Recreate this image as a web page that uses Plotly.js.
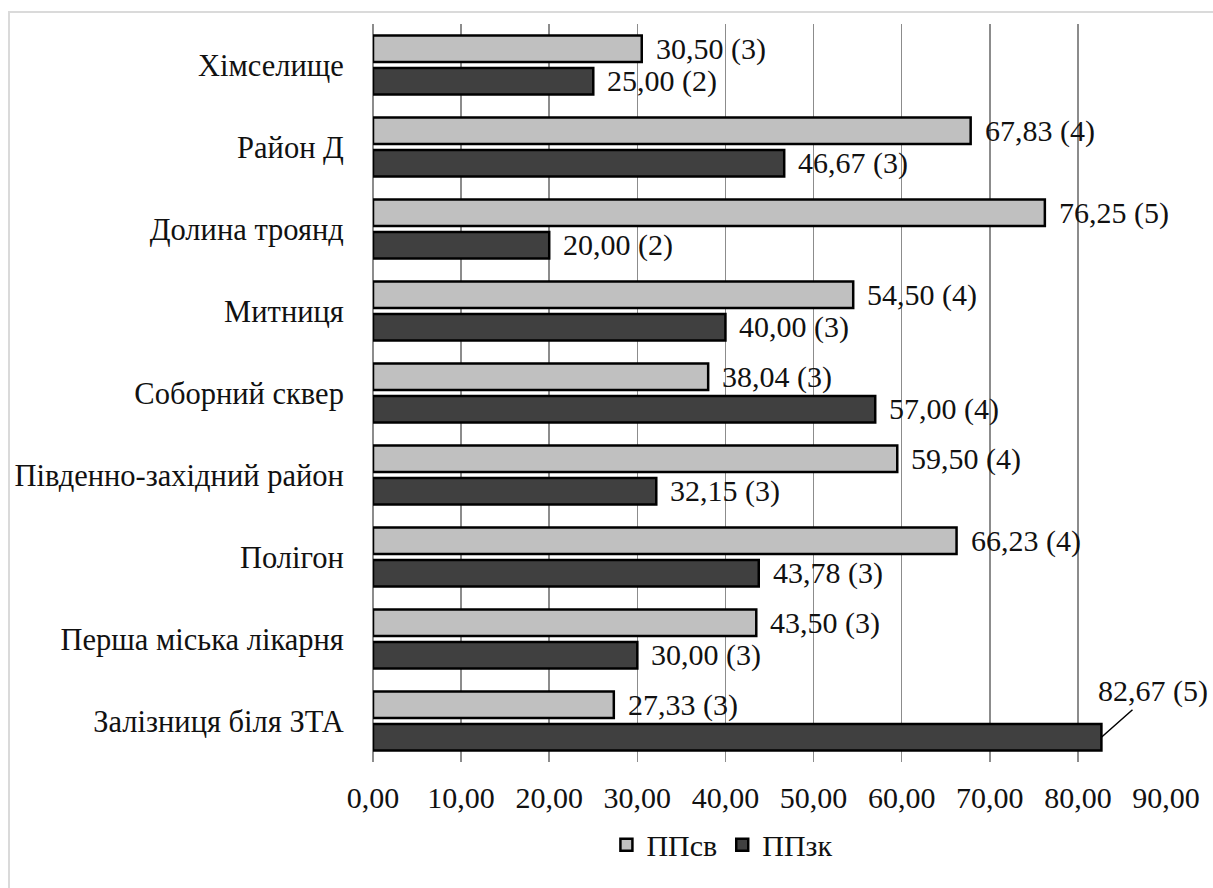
<!DOCTYPE html>
<html>
<head>
<meta charset="utf-8">
<script src="https://cdn.plot.ly/plotly-3.0.1.min.js"></script>
<style>
  html, body { margin: 0; padding: 0; background: #fff; overflow: hidden; }
  svg text { font-family: 'Liberation Serif', 'Times New Roman', serif !important; }
  #chart { position: absolute; left: 0; top: 0; width: 1213px; height: 888px; }
  #frame { position: absolute; left: 8px; top: 11px; width: 1400px; height: 1200px;
           border-top: 2px solid #dadada; border-left: 2px solid #dadada; pointer-events: none; }
</style>
</head>
<body>
<div id="chart"></div>
<div id="frame"></div>
<script>
// Districts, listed top to bottom
const categories = [
  'Хімселище',
  'Район Д',
  'Долина троянд',
  'Митниця',
  'Соборний сквер',
  'Південно-західний район',
  'Полігон',
  'Перша міська лікарня',
  'Залізниця біля ЗТА'
];

// ППсв values and their class in brackets
const ppsvValues = [30.50, 67.83, 76.25, 54.50, 38.04, 59.50, 66.23, 43.50, 27.33];
const ppsvRanks  = [3, 4, 5, 4, 3, 4, 4, 3, 3];

// ППзк values and their class in brackets
const ppzkValues = [25.00, 46.67, 20.00, 40.00, 57.00, 32.15, 43.78, 30.00, 82.67];
const ppzkRanks  = [2, 3, 2, 3, 4, 3, 3, 3, 5];

const seriesNames = ['ППсв', 'ППзк'];
const tickValues = [0, 10, 20, 30, 40, 50, 60, 70, 80, 90];

const FONT = 'Liberation Serif';
const FS = 30;
const BARGAP = 0.205;
const OFFSET = (1 - BARGAP) / 4;   // centre of each bar relative to its category

const fmt = v => v.toFixed(2).replace('.', ',');

const traces = [
  {
    type: 'bar', orientation: 'h', name: seriesNames[0],
    y: categories, x: ppsvValues,
    marker: { color: '#c0c0c0', line: { color: '#000', width: 2.5 } },
    hoverinfo: 'skip'
  },
  {
    type: 'bar', orientation: 'h', name: seriesNames[1],
    y: categories, x: ppzkValues,
    marker: { color: '#404040', line: { color: '#000', width: 2.5 } },
    hoverinfo: 'skip'
  }
];

// Value labels to the right of each bar
const annotations = [];
function addLabels(values, ranks, shift) {
  values.forEach((v, i) => {
    const last = (i === categories.length - 1) && shift > 0 && v === Math.max(...values);
    const a = {
      x: v, y: i + shift, xref: 'x', yref: 'y',
      text: fmt(v) + ' (' + ranks[i] + ')',
      font: { family: FONT, size: FS, color: '#111' },
      showarrow: false, xanchor: 'left', yanchor: 'middle', xshift: 12
    };
    if (last) {
      // the longest bar gets its label lifted above, joined by a leader line
      Object.assign(a, {
        showarrow: true, arrowhead: 0, arrowwidth: 1.5, arrowcolor: '#000',
        ax: 52, ay: -46, xanchor: 'center', yanchor: 'middle', xshift: 0
      });
    }
    annotations.push(a);
  });
}
addLabels(ppsvValues, ppsvRanks, -OFFSET);
addLabels(ppzkValues, ppzkRanks, OFFSET);

const layout = {
  width: 1213, height: 888,
  margin: { l: 373, r: 47, t: 24, b: 126 },
  paper_bgcolor: '#fff', plot_bgcolor: '#fff',
  separators: ', ',
  barmode: 'group',
  bargap: BARGAP,
  bargroupgap: 0.19,
  font: { family: FONT, size: FS, color: '#111' },
  showlegend: true,
  legend: {
    orientation: 'h', x: 0.44, xanchor: 'center', y: -0.112, yanchor: 'middle',
    font: { family: FONT, size: FS, color: '#111' },
    itemwidth: 30, traceorder: 'normal'
  },
  xaxis: {
    range: [0, 90], autorange: false, tickvals: tickValues, tickformat: '.2f',
    showgrid: true, gridcolor: '#8c8c8c', gridwidth: 1.5,
    zeroline: true, zerolinecolor: '#8c8c8c', zerolinewidth: 1.5,
    showline: false,
    ticks: 'outside', ticklen: 9, tickcolor: 'rgba(0,0,0,0)',
    tickfont: { family: FONT, size: FS, color: '#111' }
  },
  yaxis: {
    type: 'category', range: [categories.length - 0.5, -0.5], autorange: false,
    showgrid: false, zeroline: false, showline: false,
    ticks: 'outside', ticklen: 22, tickcolor: 'rgba(0,0,0,0)',
    tickfont: { family: FONT, size: FS + 0.5, color: '#111' }
  },
  annotations: annotations
};

Plotly.newPlot('chart', traces, layout, { staticPlot: true, displayModeBar: false });
</script>
</body>
</html>
